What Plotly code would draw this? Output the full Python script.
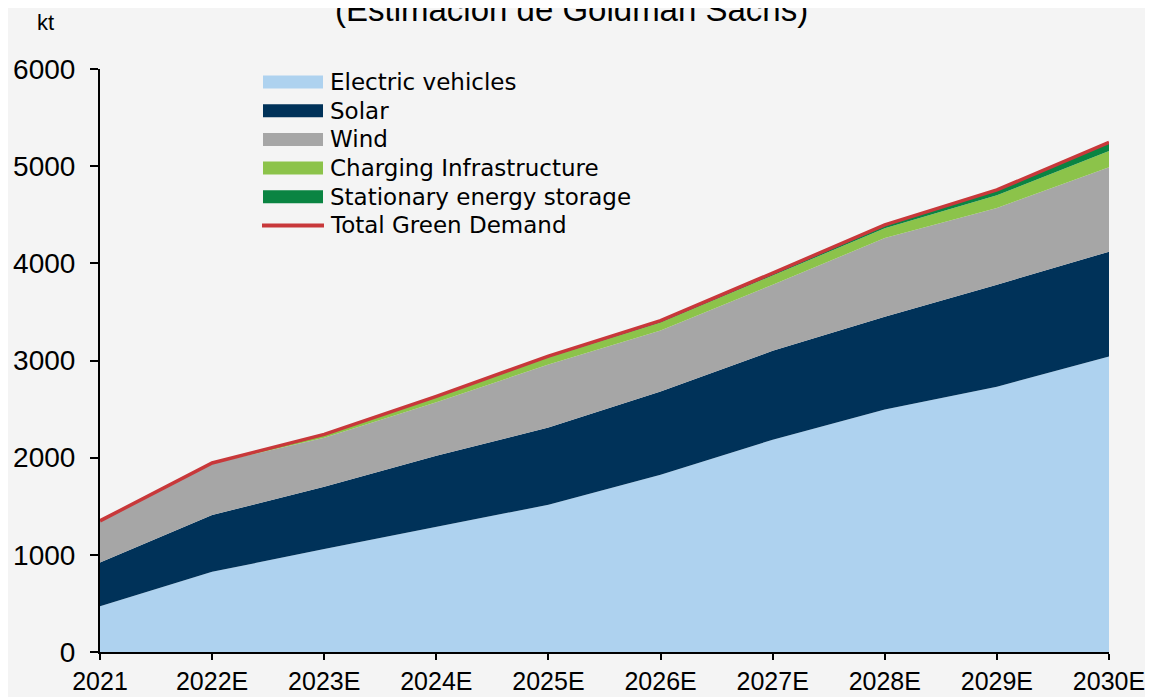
import plotly.graph_objects as go

# ---- data (kt) ----
years = ["2021", "2022E", "2023E", "2024E", "2025E", "2026E", "2027E", "2028E", "2029E", "2030E"]
ev = [470, 825, 1060, 1290, 1515, 1825, 2185, 2495, 2730, 3040]
solar = [450, 585, 640, 730, 795, 855, 915, 955, 1050, 1080]
wind = [430, 530, 505, 550, 650, 630, 680, 810, 790, 870]
charging = [0, 5, 30, 50, 70, 80, 95, 100, 130, 165]
storage = [0, 0, 5, 10, 15, 20, 25, 35, 55, 90]
total = [1350, 1945, 2240, 2630, 3045, 3410, 3900, 4395, 4755, 5245]

names = ["Electric vehicles", "Solar", "Wind", "Charging Infrastructure",
         "Stationary energy storage", "Total Green Demand"]
colors = ["#aed2ef", "#003259", "#a6a6a6", "#8cc34a", "#0a8442", "#c8383a"]

FONT = "Liberation Sans, Arial, sans-serif"
LFONT = "DejaVu Sans, sans-serif"
x = list(range(len(years)))

fig = go.Figure()
for vals, name, col in zip([ev, solar, wind, charging, storage], names[:5], colors[:5]):
    fig.add_trace(go.Scatter(x=x, y=vals, name=name, stackgroup="one", mode="lines",
                             line=dict(width=0, color=col), fillcolor=col,
                             showlegend=False))
fig.add_trace(go.Scatter(x=x, y=total, name=names[5], mode="lines",
                         line=dict(width=3.5, color=colors[5]), showlegend=False))

# ---- manual legend (page-pixel tuned; page has an 8px body margin) ----
W, L, B, H = 1009, 100, 652, 583
def px(v):
    return (v - L) / W
def py(v):
    return (B - v) / H

row0, step = 82, 28.7
for i, (name, col) in enumerate(zip(names, colors)):
    cy = row0 + step * i
    if i < 5:
        fig.add_shape(type="rect", xref="paper", yref="paper",
                      x0=px(263), x1=px(323), y0=py(cy + 6.5), y1=py(cy - 6.5),
                      fillcolor=col, line=dict(width=0))
    else:
        fig.add_shape(type="line", xref="paper", yref="paper",
                      x0=px(262), x1=px(324), y0=py(cy), y1=py(cy),
                      line=dict(color=col, width=4))
    fig.add_annotation(text=name, xref="paper", yref="paper", x=px(328), y=py(cy),
                       xanchor="left", yanchor="middle", showarrow=False,
                       font=dict(family=LFONT, size=23, color="#000000"))

fig.add_annotation(text="kt", xref="paper", yref="paper", x=px(45), y=py(22),
                   xanchor="center", yanchor="middle", showarrow=False,
                   font=dict(family=FONT, size=22, color="#000000"))
fig.add_annotation(text="(Estimación de Goldman Sachs)", xref="paper", yref="paper",
                   x=px(571), y=py(10), xanchor="center", yanchor="middle", showarrow=False,
                   font=dict(family=FONT, size=33, color="#000000"))

fig.update_layout(
    width=1145, height=689,
    margin=dict(l=92, r=44, t=61, b=45, autoexpand=False),
    paper_bgcolor="#f4f4f4", plot_bgcolor="#f4f4f4",
    showlegend=False,
    font=dict(family=FONT, size=28, color="#000000"),
)
fig.update_xaxes(range=[0, 9], tickvals=x, ticktext=years, showgrid=False, zeroline=False,
                 automargin=False,
                 showline=True, linecolor="#000000", linewidth=2,
                 ticks="outside", ticklen=6, tickwidth=2, tickcolor="#000000",
                 tickfont=dict(family=FONT, size=25, color="#000000"))
fig.update_yaxes(range=[0, 6000], dtick=1000, showgrid=False, zeroline=False,
                 automargin=False,
                 showline=True, linecolor="#000000", linewidth=2,
                 ticks="outside", ticklen=8, tickwidth=2, tickcolor="#000000",
                 ticklabelstandoff=9,
                 tickfont=dict(family=FONT, size=28, color="#000000"))

fig.write_html("out.html")
